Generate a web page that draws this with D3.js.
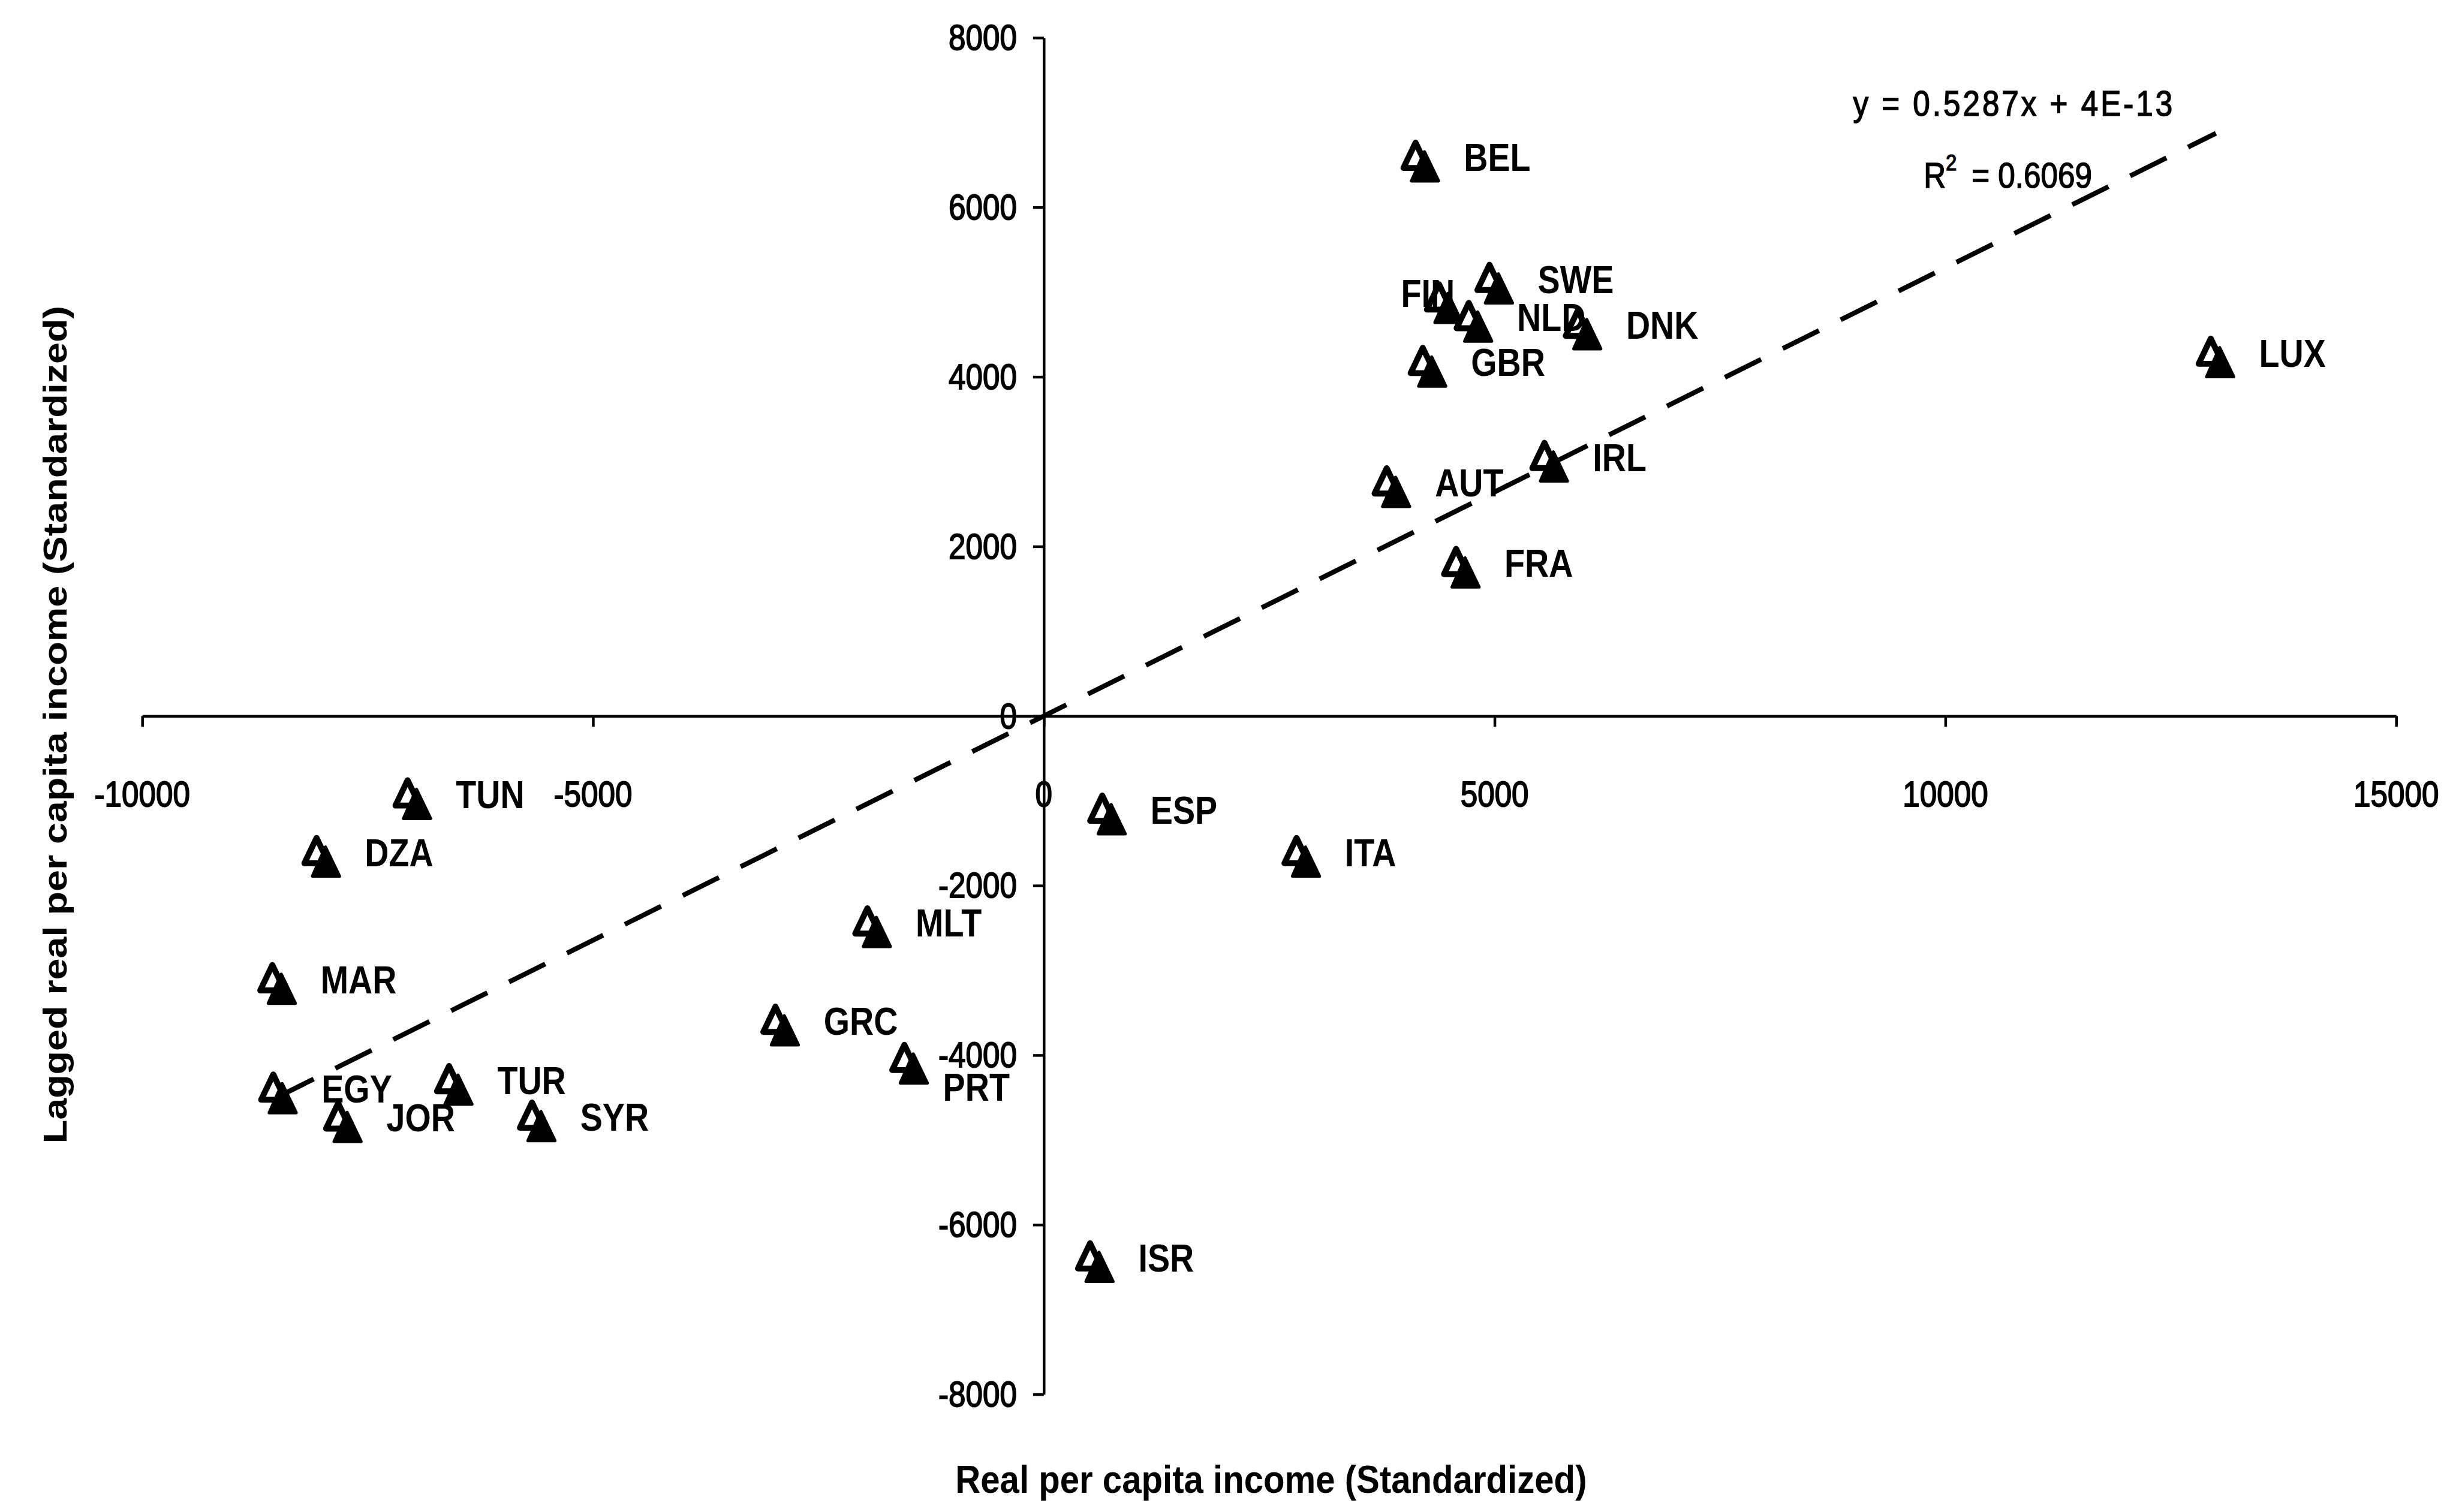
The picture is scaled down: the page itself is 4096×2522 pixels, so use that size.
<!DOCTYPE html>
<html><head><meta charset="utf-8">
<script src="https://cdn.jsdelivr.net/npm/d3@7"></script>
<style>html,body{margin:0;padding:0;background:#fff;overflow:hidden}</style>
</head><body><svg id="chart"></svg>
<script>
// ---- data ----
const countries = ["BEL","SWE","FIN","NLD","DNK","GBR","LUX","IRL","AUT","FRA","ESP","ITA","ISR","MLT","GRC","PRT","TUN","DZA","MAR","EGY","TUR","JOR","SYR"];
const incomeValues = [4180,5000,4440,4770,5980,4260,13000,5610,3860,4630,705,2860,570,-1900,-2920,-1490,-7000,-8010,-8500,-8490,-6540,-7770,-5620];
const laggedValues = [6540,5100,4870,4650,4560,4120,4230,3000,2700,1750,-1160,-1660,-6440,-2490,-3650,-4100,-980,-1660,-3160,-4450,-4350,-4790,-4780];
const xTicks = [-10000,-5000,0,5000,10000,15000];
const xTickLabels = ["-10000","-5000","0","5000","10000","15000"];
const yTicks = [-8000,-6000,-4000,-2000,0,2000,4000,6000,8000];
const yTickLabels = ["-8000","-6000","-4000","-2000","0","2000","4000","6000","8000"];
const trendSlope = 0.5287;
const trendIntercept = 4e-13;
const equationLabel = "y = 0.5287x + 4E-13";
const r2Label = "0.6069";
const xTitle = "Real per capita income (Standardized)";
const yTitle = "Lagged real per capita income (Standardized)";

// ---- layout (reference pixel space, scaled to window) ----
const W = 4096, H = 2522, REF_W = 4558;
const S = W / REF_W;
const K = 1.15; // vertical stretch of the scanned glyphs
const labelOffset = {dx: 80, dy: -7};
const specialOffsets = {FIN: {dx: -80, dy: -17}, PRT: {dx: 62, dy: 44}};

const svg = d3.select("#chart").attr("width", W).attr("height", H)
  .style("background", "#fff");
const root = svg.append("g").attr("transform", `scale(${S})`);

const x = d3.scaleLinear().domain([-10000, 15000]).range([264, 4447]);
const y = d3.scaleLinear().domain([-8000, 8000]).range([2588, 70]);

const data = countries.map((c, i) => ({c, x: incomeValues[i], y: laggedValues[i]}));

function stretchedText(g, px, py, str, o) {
  return g.append("text")
    .attr("transform", `translate(${px},${py}) scale(1,${K})`)
    .attr("dominant-baseline", "central")
    .attr("text-anchor", o.anchor || "start")
    .attr("font-family", "'Liberation Sans', Arial, sans-serif")
    .attr("font-size", o.size)
    .attr("font-weight", o.weight || "normal")
    .attr("fill", "#000")
    .attr("stroke", "#000")
    .attr("stroke-width", o.sw || 0)
    .text(str);
}

// axes crossing at zero
const axesG = root.append("g");
const xAxis = d3.axisBottom(x).tickValues(xTicks).tickSize(20).tickSizeOuter(0).tickFormat("");
const yAxis = d3.axisLeft(y).tickValues(yTicks).tickSize(20).tickSizeOuter(0).tickFormat("");
const gx = axesG.append("g").attr("transform", `translate(0,${y(0)})`).call(xAxis);
const gy = axesG.append("g").attr("transform", `translate(${x(0)},0)`).call(yAxis);
[gx, gy].forEach(g => {
  g.select(".domain").attr("stroke", "#000").attr("stroke-width", 5);
  g.selectAll(".tick line").attr("stroke", "#000").attr("stroke-width", 5);
});

// tick labels
xTicks.forEach((v, i) => stretchedText(axesG, x(v), 1474, xTickLabels[i], {anchor: "middle", size: 57, sw: 1.8}));
yTicks.forEach((v, i) => stretchedText(axesG, x(0) - 50, y(v), yTickLabels[i], {anchor: "end", size: 57, sw: 1.8}));

// trend line over the data range
const xr = d3.extent(incomeValues);
const line = d3.line().x(d => x(d)).y(d => y(trendSlope * d + trendIntercept));
root.append("path").datum(xr).attr("d", line)
  .attr("fill", "none").attr("stroke", "#000").attr("stroke-width", 9)
  .attr("stroke-dasharray", "75,45");

// markers
const mk = root.append("g").selectAll("g").data(data).join("g")
  .attr("transform", d => `translate(${x(d.x)},${y(d.y)})`);
mk.append("path").attr("d", "M-9.5,-35 L-32,12 L13,12 Z")
  .attr("fill", "#fff").attr("stroke", "#000").attr("stroke-width", 11).attr("stroke-linejoin", "round");
mk.append("path").attr("d", "M7,-18 L-17,36 L33,36 Z")
  .attr("fill", "#000").attr("stroke", "#000").attr("stroke-width", 6).attr("stroke-linejoin", "round");

// country labels
const lg = root.append("g");
data.forEach(d => {
  const o = specialOffsets[d.c] || labelOffset;
  stretchedText(lg, x(d.x) + o.dx, y(d.y) + o.dy, d.c, {size: 62, weight: "bold"});
});

// regression equation
stretchedText(root, 3439, 192, equationLabel, {size: 57, sw: 1.5}).attr("textLength", 593).attr("lengthAdjust", "spacing");
const r2 = root.append("text")
  .attr("transform", `translate(3570,326) scale(1,${K})`)
  .attr("dominant-baseline", "central")
  .attr("font-family", "'Liberation Sans', Arial, sans-serif")
  .attr("font-size", 57).attr("fill", "#000").attr("stroke", "#000").attr("stroke-width", 1.5);
r2.append("tspan").text("R");
r2.append("tspan").attr("font-size", 36).attr("dy", -22).text("2");
r2.append("tspan").attr("dy", 22).attr("dx", 12).text(" =  " + r2Label);

// axis titles
stretchedText(root, 2359, 2747, xTitle, {anchor: "middle", size: 62, weight: "bold"})
  .attr("textLength", 1172).attr("lengthAdjust", "spacingAndGlyphs");
root.append("text")
  .attr("transform", "translate(102,1345) rotate(-90)")
  .attr("dominant-baseline", "central").attr("text-anchor", "middle")
  .attr("font-family", "'Liberation Sans', Arial, sans-serif")
  .attr("font-size", 62).attr("font-weight", "bold").attr("fill", "#000")
  .attr("textLength", 1555).attr("lengthAdjust", "spacingAndGlyphs")
  .text(yTitle);
</script></body></html>
